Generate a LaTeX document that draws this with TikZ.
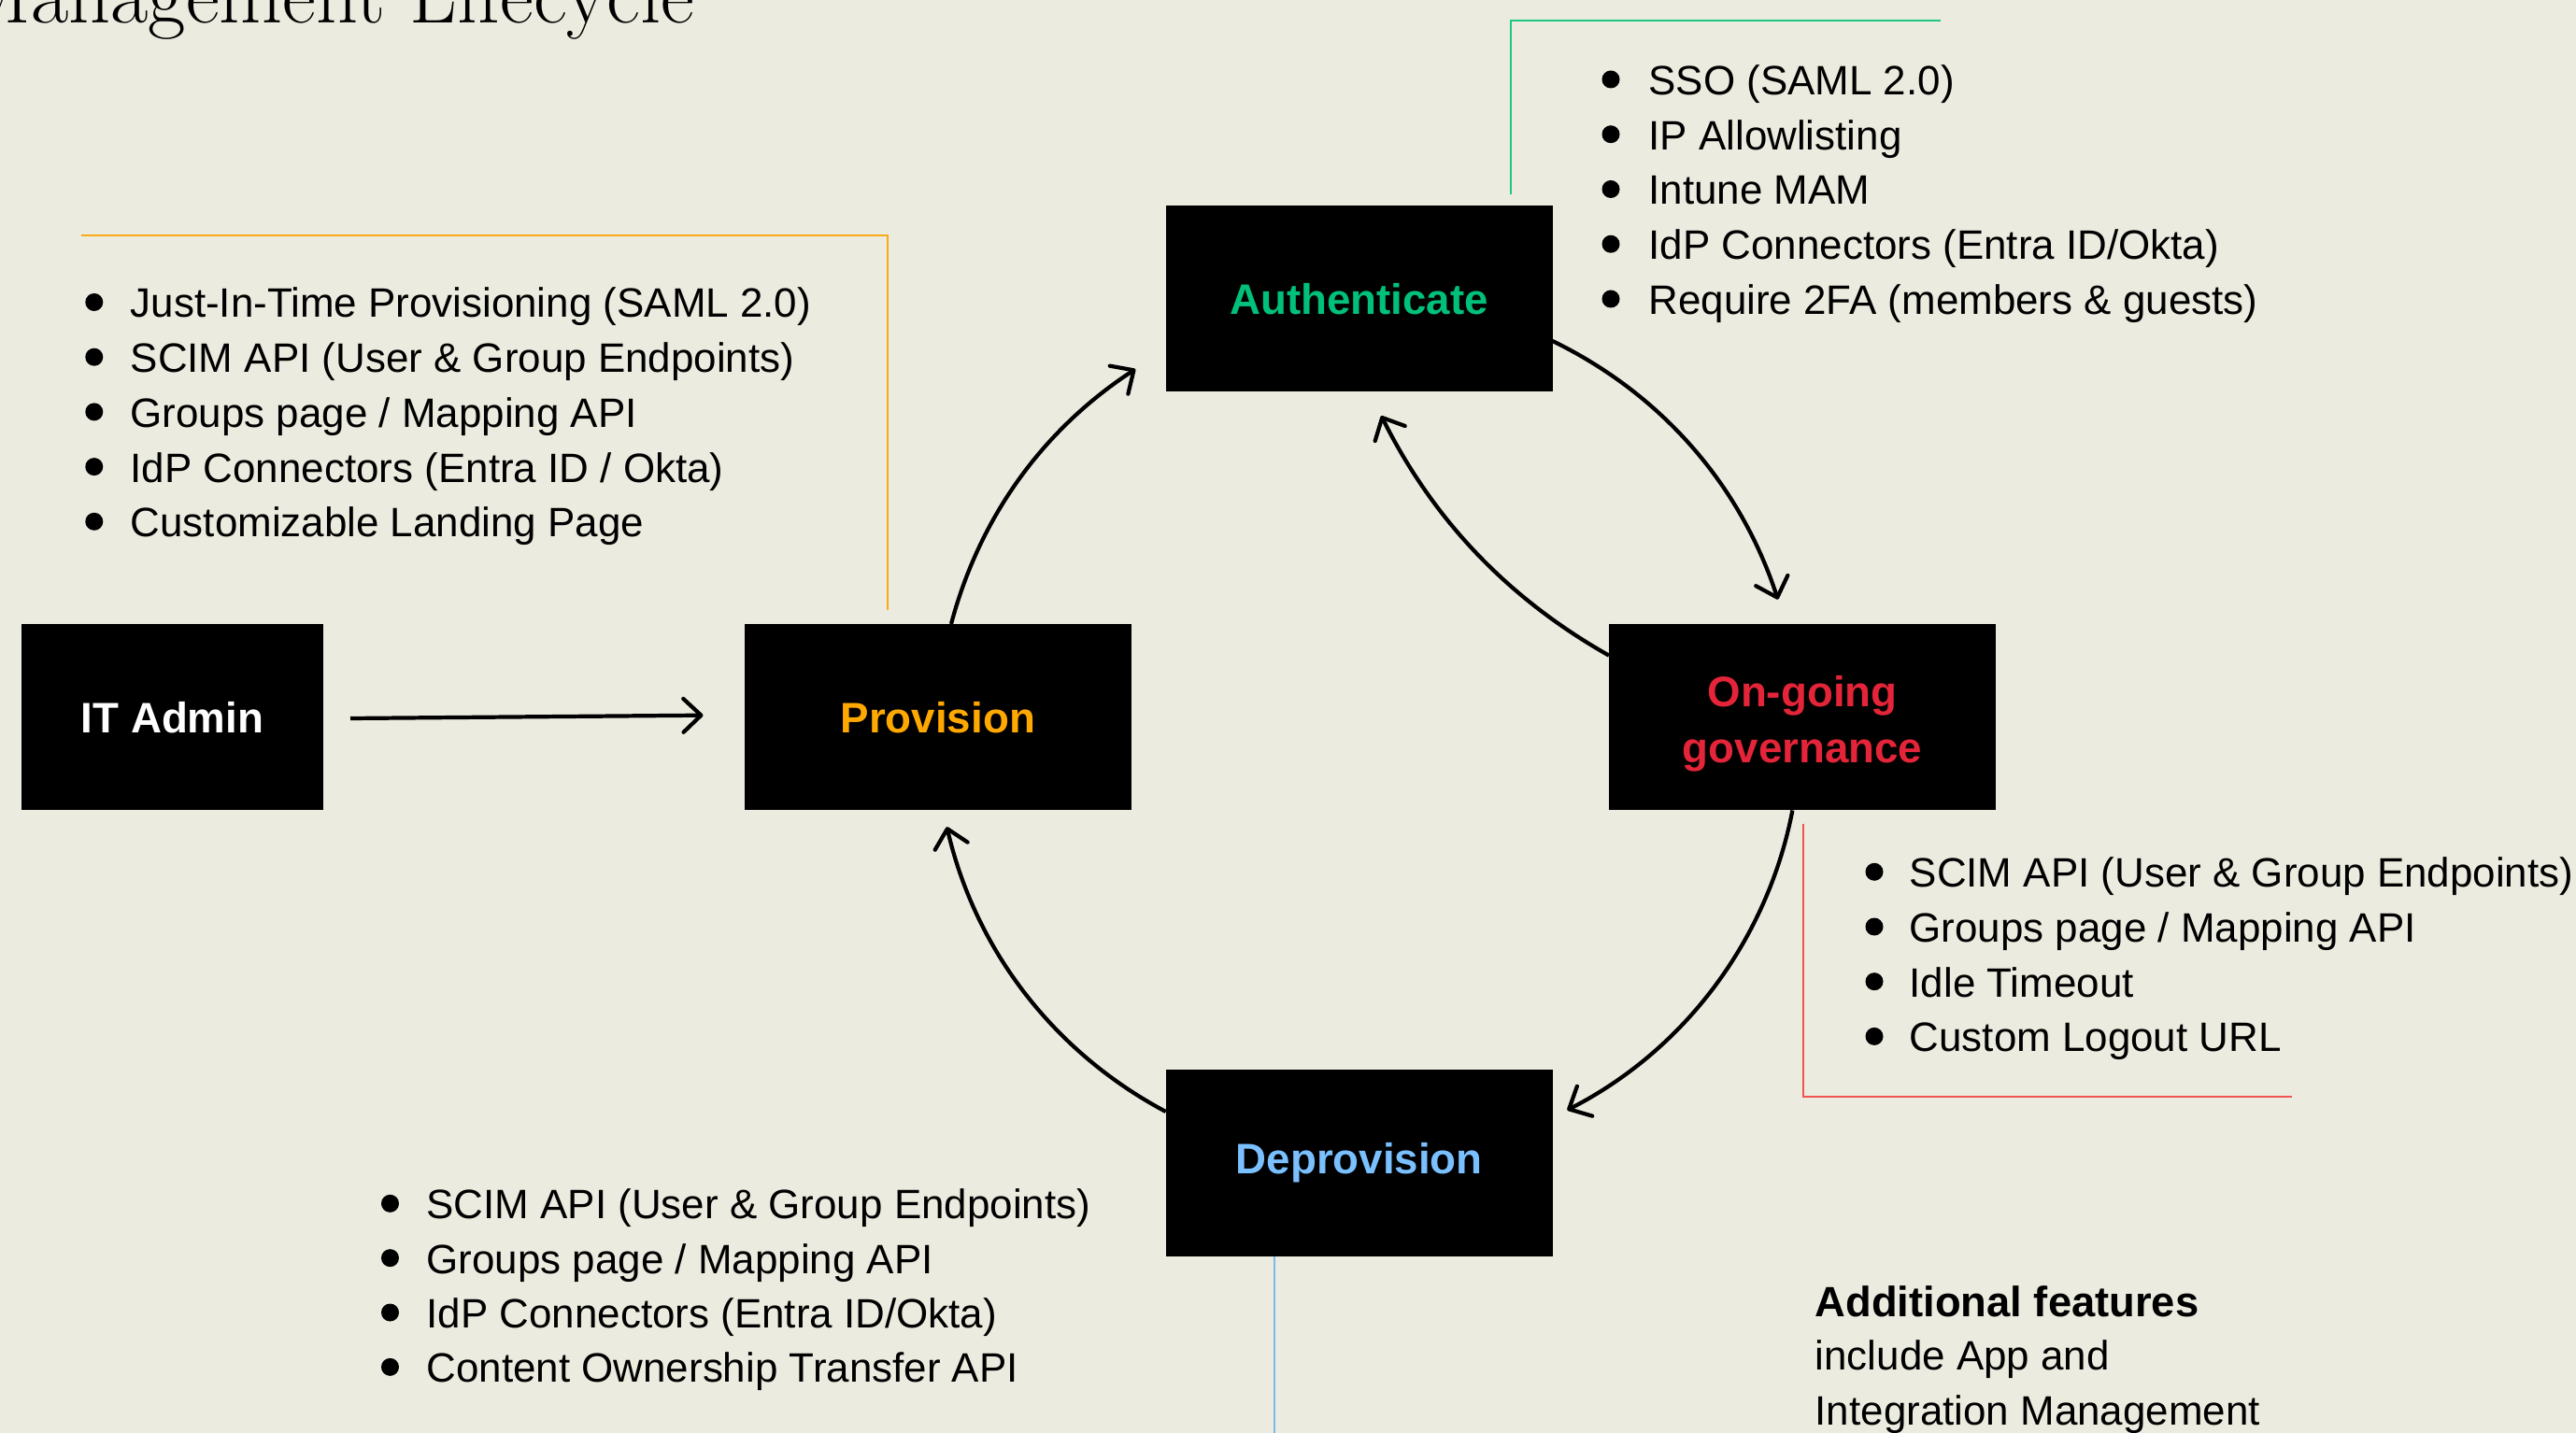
\documentclass[tikz,border=0pt]{standalone}
\usepackage{fontspec}
\setsansfont{Liberation Sans}
\usetikzlibrary{arrows.meta}

\definecolor{paper}{RGB}{235,235,223}
\definecolor{authgreen}{RGB}{0,192,122}
\definecolor{provorange}{RGB}{255,168,0}
\definecolor{govred}{RGB}{228,36,56}
\definecolor{deprovblue}{RGB}{122,192,255}
\definecolor{authline}{RGB}{30,200,130}
\definecolor{provline}{RGB}{250,170,20}
\definecolor{govline}{RGB}{242,84,84}
\definecolor{deprovline}{RGB}{122,186,238}

\tikzset{
  stage/.style={fill=black, minimum width=4.14cm, minimum height=1.995cm, inner sep=0pt, outer sep=0pt,
    align=center, font=\sffamily\bfseries\fontsize{13pt}{17pt}\selectfont},
  flow/.style={line width=1.2pt, looseness=0.9, -{Straight Barb[length=5.4pt,width=10.2pt,round]}},
  guide/.style={line width=0.65pt},
  item/.style={anchor=base west, inner sep=0pt, font=\sffamily\fontsize{12.5pt}{16.6pt}\selectfont},
}

\begin{document}
\begin{tikzpicture}
  \useasboundingbox (0,0) rectangle (27.57,-15.34);
  \fill[paper] (0,0) rectangle (27.57,-15.34);
  \clip (0,0) rectangle (27.57,-15.34);

  % title, cut by the top edge
  \node[anchor=base east, inner sep=0pt, font=\fontsize{25pt}{28pt}\selectfont] (title) at (7.434,-0.25) {Management Lifecycle};

  % stages
  \node[stage, minimum width=3.23cm, text=white] (admin) at (1.845,-7.677) {IT Admin};
  \node[stage, text=provorange] (prov) at (10.038,-7.677) {Provision};
  \node[stage, text=authgreen] (auth) at (14.545,-3.197) {Authenticate};
  \node[stage, text=govred] (gov) at (19.29,-7.677) {\rule{0pt}{13.5pt}On-going\\governance};
  \node[stage, text=deprovblue] (deprov) at (14.547,-12.45) {Deprovision};

  % flow
  \draw[flow] ([shift={(0.29,-0.013)}]admin.east) -- ([shift={(-0.443,0.02)}]prov.west);
  \draw[flow] ([xshift=1.42mm]prov.north) to[bend left=21] ([shift={(-0.323,0.243)}]auth.south west);
  \draw[flow] ([yshift=-4.53mm]auth.east) to[bend left=23] ([shift={(-0.262,0.263)}]gov.north);
  \draw[flow] ([xshift=-1.06mm]gov.south) to[bend left=26] ([shift={(0.156,0.567)}]deprov.east);
  \draw[flow] ([yshift=5.5mm]deprov.west) to[bend left=24.5] ([shift={(0.096,-0.177)}]prov.south);
  \draw[flow] ([yshift=6.6mm]gov.west) to[bend left=17] ([shift={(0.238,-0.257)}]auth.south);

  % guide lines
  \draw[guide, provline] (0.867,-2.517) -| (9.502,-6.533);
  \draw[guide, authline] (16.17,-2.083) |- (20.773,-0.223);
  \draw[guide, govline] (19.30,-8.817) |- (24.53,-11.74);
  \draw[guide, deprovline] (13.64,-13.45) -- (13.64,-15.4);

  % feature lists
  \foreach \txt [count=\i from 0] in {Just-In-Time Provisioning (SAML 2.0), SCIM API (User \& Group Endpoints),
      Groups page / Mapping API, IdP Connectors (Entra ID / Okta), Customizable Landing Page}{
    \fill (1.008,-3.235-0.587*\i) circle (0.095);
    \node[item] (provitem\i) at (1.39,-3.40-0.587*\i) {\txt};
  }
  \foreach \txt [count=\i from 0] in {SSO (SAML 2.0), IP Allowlisting, Intune MAM,
      IdP Connectors (Entra ID/Okta), Require 2FA (members \& guests)}{
    \fill (17.24,-0.85-0.5875*\i) circle (0.095);
    \node[item] (authitem\i) at (17.638,-1.015-0.5875*\i) {\txt};
  }
  \foreach \txt [count=\i from 0] in {SCIM API (User \& Group Endpoints), Groups page / Mapping API,
      Idle Timeout, Custom Logout URL}{
    \fill (20.06,-9.333-0.587*\i) circle (0.095);
    \node[item] (govitem\i) at (20.43,-9.498-0.587*\i) {\txt};
  }
  \foreach \txt [count=\i from 0] in {SCIM API (User \& Group Endpoints), Groups page / Mapping API,
      IdP Connectors (Entra ID/Okta), Content Ownership Transfer API}{
    \fill (4.175,-12.883-0.5835*\i) circle (0.095);
    \node[item] (deprovitem\i) at (4.559,-13.048-0.5835*\i) {\txt};
  }

  % note
  \node[item, font=\sffamily\bfseries\fontsize{12.9pt}{16.6pt}\selectfont] (extra) at (19.42,-14.093) {Additional features};
  \node[item] (extra1) at (19.42,-14.667) {include App and};
  \node[item] (extra2) at (19.42,-15.25) {Integration Management};
\end{tikzpicture}
\end{document}
